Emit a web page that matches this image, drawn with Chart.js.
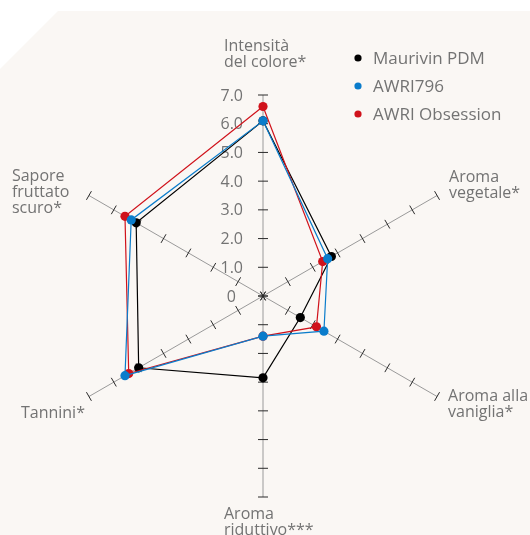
<!DOCTYPE html>
<html>
<head>
<meta charset="utf-8">
<script src="https://cdn.jsdelivr.net/npm/chart.js@4/dist/chart.umd.min.js"></script>
<style>
  html, body { margin: 0; padding: 0; background: #ffffff; }
  #c { display: block; }
</style>
</head>
<body>
<canvas id="c" width="530" height="535"></canvas>
<script>
// ---- data ----
const categories = [
  ["Intensità", "del colore*"],
  ["Aroma", "vegetale*"],
  ["Aroma alla", "vaniglia*"],
  ["Aroma", "riduttivo***"],
  ["Tannini*"],
  ["Sapore", "fruttato", "scuro*"]
];
const seriesNames = ["Maurivin PDM", "AWRI796", "AWRI Obsession"];
const maurivinPDM   = [6.1, 2.75, 1.5, 2.85, 5.0, 5.1];
const awri796       = [6.1, 2.6, 2.45, 1.4, 5.55, 5.3];
const awriObsession = [6.6, 2.4, 2.15, 1.4, 5.4, 5.55];
const tickValues = [0, 1, 2, 3, 4, 5, 6, 7];
const tickLabels = ["0", "1.0", "2.0", "3.0", "4.0", "5.0", "6.0", "7.0"];

// ---- styles ----
const COLORS = ["#000000", "#0a7ccb", "#d0121b"];
const TEXT = "#737373";
const FONT = "'Open Sans', sans-serif";

// label placement offsets relative to the axis end (style only)
const labelOffsets = [
  { dx: -39, dy: -44 },
  { dx: 12, dy: -14 },
  { dx: 11, dy: 4 },
  { dx: -39, dy: 22 },
  { dx: -68, dy: 21 },
  { dx: -77, dy: -15 }
];

const decor = {
  id: "decor",
  beforeDraw(chart) {
    const ctx = chart.ctx;
    ctx.save();
    ctx.fillStyle = "#ffffff";
    ctx.fillRect(0, 0, chart.width, chart.height);
    ctx.fillStyle = "#faf7f4";
    ctx.beginPath();
    ctx.moveTo(58, 11);
    ctx.lineTo(chart.width, 11);
    ctx.lineTo(chart.width, chart.height);
    ctx.lineTo(0, chart.height);
    ctx.lineTo(0, 69);
    ctx.closePath();
    ctx.fill();
    ctx.restore();
  },
  beforeDatasetsDraw(chart) {
    const ctx = chart.ctx;
    const s = chart.scales.r;
    ctx.save();
    // tick marks on every axis
    ctx.strokeStyle = "#2a2a2a";
    ctx.lineWidth = 1;
    for (let i = 0; i < categories.length; i++) {
      const a = s.getIndexAngle(i) - Math.PI / 2;
      const px = -Math.sin(a), py = Math.cos(a);
      tickValues.forEach(v => {
        const p = s.getPointPositionForValue(i, v);
        ctx.beginPath();
        ctx.moveTo(p.x - 5 * px, p.y - 5 * py);
        ctx.lineTo(p.x + 5 * px, p.y + 5 * py);
        ctx.stroke();
      });
    }
    // tick labels along the first axis
    ctx.fillStyle = TEXT;
    ctx.font = "16px " + FONT;
    ctx.textAlign = "right";
    ctx.textBaseline = "middle";
    tickValues.forEach((v, k) => {
      const p = s.getPointPositionForValue(0, v);
      const off = v === 0 ? 27 : 20;
      ctx.fillText(tickLabels[k], p.x - off, p.y + 1);
    });
    ctx.restore();
  },
  afterDraw(chart) {
    const ctx = chart.ctx;
    const s = chart.scales.r;
    ctx.save();
    ctx.fillStyle = TEXT;
    ctx.font = "16px " + FONT;
    ctx.textAlign = "left";
    ctx.textBaseline = "alphabetic";
    categories.forEach((lines, i) => {
      const p = s.getPointPositionForValue(i, s.max);
      const o = labelOffsets[i];
      lines.forEach((t, j) => {
        ctx.fillText(t, p.x + o.dx, p.y + o.dy + j * 16);
      });
    });
    // legend
    ctx.font = "17px " + FONT;
    ctx.textBaseline = "middle";
    seriesNames.forEach((n, k) => {
      const y = 58 + k * 28;
      ctx.fillStyle = COLORS[k];
      ctx.beginPath();
      ctx.arc(358, y, 3.6, 0, Math.PI * 2);
      ctx.fill();
      ctx.fillStyle = TEXT;
      ctx.fillText(n, 373, y + 1);
    });
    ctx.restore();
  }
};

const seriesData = [maurivinPDM, awri796, awriObsession];
const drawOrder = [2, 0, 1];

new Chart(document.getElementById("c"), {
  type: "radar",
  data: {
    labels: categories,
    datasets: seriesData.map((d, k) => ({
      label: seriesNames[k],
      data: d,
      borderColor: COLORS[k],
      backgroundColor: COLORS[k],
      pointBackgroundColor: COLORS[k],
      pointBorderWidth: 0,
      pointRadius: 4.6,
      borderWidth: 1.2,
      fill: false,
      order: drawOrder[k]
    }))
  },
  options: {
    responsive: false,
    animation: false,
    layout: { padding: { left: 62, right: 65, top: 95, bottom: 37 } },
    plugins: { legend: { display: false }, tooltip: { enabled: false } },
    scales: {
      r: {
        min: 0,
        max: 7,
        ticks: { display: false, stepSize: 1 },
        grid: { display: false },
        angleLines: { display: true, color: "#9a9a9a", lineWidth: 1 },
        pointLabels: { display: false }
      }
    }
  },
  plugins: [decor]
});
</script>
</body>
</html>
